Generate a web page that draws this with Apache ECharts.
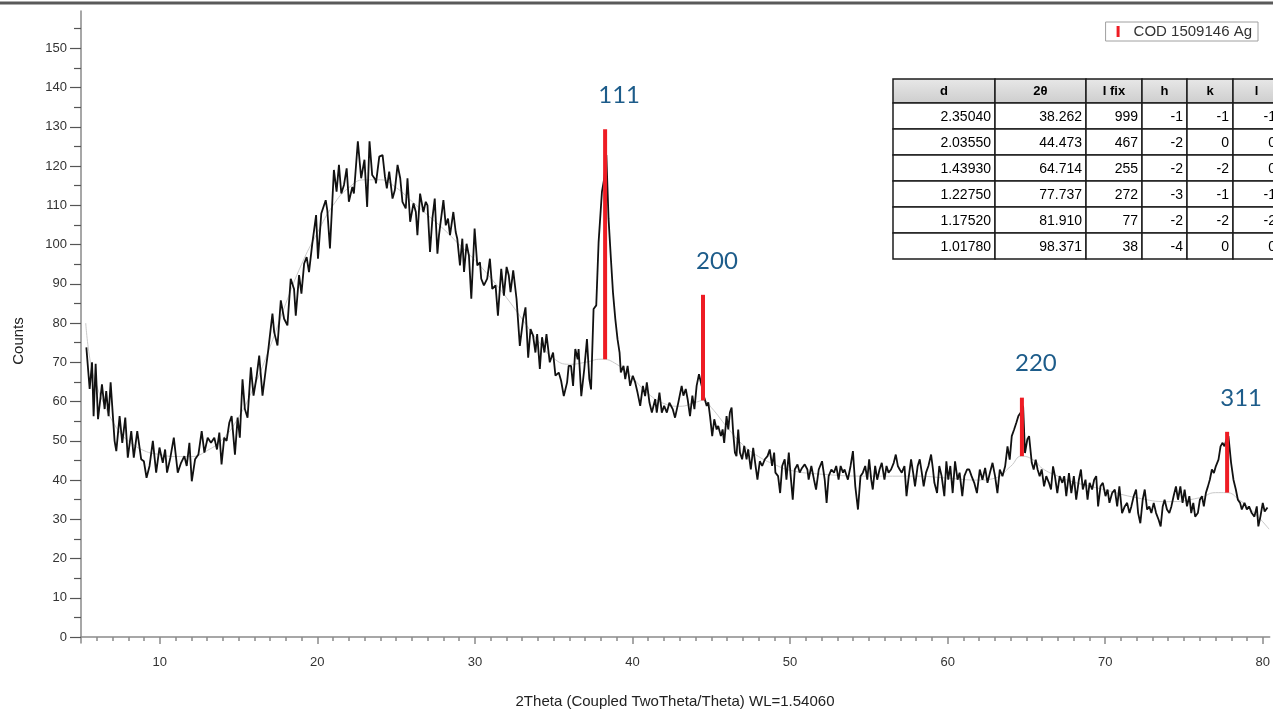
<!DOCTYPE html>
<html>
<head>
<meta charset="utf-8">
<title>XRD Ag</title>
<script src="https://cdn.jsdelivr.net/npm/echarts@6/dist/echarts.min.js"></script>
<style>
  html, body { margin: 0; padding: 0; background: #fff; }
  #chart { width: 1273px; height: 711px; }
</style>
</head>
<body>
<div id="chart"></div>
<script>
const twoTheta = [
  5.34, 5.55, 5.70, 5.80, 5.93, 6.08, 6.33, 6.50, 6.60, 6.75, 6.88, 7.13, 7.24, 7.45, 7.62, 7.81, 7.97, 8.19, 8.35, 8.57,
  8.82, 8.99, 9.16, 9.35, 9.56, 9.77, 9.98, 10.19, 10.34, 10.46, 10.67, 10.89, 11.14, 11.35, 11.56, 11.71, 11.88, 12.03, 12.24, 12.45,
  12.66, 12.83, 13.04, 13.25, 13.46, 13.63, 13.78, 13.92, 14.09, 14.24, 14.41, 14.56, 14.77, 14.94, 15.08, 15.25, 15.40, 15.57, 15.78, 15.95,
  16.14, 16.31, 16.52, 16.73, 16.88, 17.15, 17.26, 17.47, 17.68, 17.89, 18.10, 18.31, 18.52, 18.63, 18.84, 18.99, 19.16, 19.32, 19.47, 19.68,
  19.92, 20.04, 20.25, 20.53, 20.63, 20.80, 21.05, 21.22, 21.37, 21.52, 21.69, 21.86, 22.00, 22.22, 22.32, 22.57, 22.78, 22.99, 23.16, 23.31,
  23.48, 23.69, 23.72, 23.93, 24.14, 24.29, 24.41, 24.56, 24.77, 24.92, 25.09, 25.26, 25.40, 25.61, 25.72, 25.89, 26.10, 26.25, 26.35, 26.52,
  26.73, 26.88, 26.99, 27.15, 27.30, 27.45, 27.62, 27.72, 28.00, 28.15, 28.29, 28.42, 28.63, 28.78, 28.88, 29.05, 29.20, 29.31, 29.47, 29.62,
  29.77, 29.98, 30.15, 30.32, 30.40, 30.57, 30.78, 30.95, 31.10, 31.31, 31.46, 31.67, 31.84, 32.01, 32.15, 32.26, 32.43, 32.64, 32.85, 33.06,
  33.21, 33.38, 33.53, 33.69, 33.84, 33.95, 34.12, 34.26, 34.41, 34.54, 34.75, 34.96, 35.11, 35.32, 35.47, 35.64, 35.85, 35.95, 36.10, 36.23,
  36.37, 36.52, 36.58, 36.75, 36.94, 37.11, 37.26, 37.37, 37.53, 37.70, 37.85, 38.06, 38.21, 38.34, 38.48, 38.63, 38.76, 38.91, 39.05, 39.18,
  39.26, 39.43, 39.54, 39.69, 39.85, 40.02, 40.17, 40.32, 40.49, 40.66, 40.80, 40.91, 41.08, 41.23, 41.44, 41.54, 41.71, 41.86, 42.01, 42.18,
  42.34, 42.56, 42.70, 42.91, 43.12, 43.23, 43.38, 43.50, 43.65, 43.80, 43.93, 44.07, 44.22, 44.39, 44.56, 44.71, 44.81, 44.92, 45.06, 45.19,
  45.34, 45.44, 45.61, 45.72, 45.82, 45.97, 46.08, 46.18, 46.29, 46.39, 46.50, 46.60, 46.71, 46.82, 46.96, 47.09, 47.24, 47.34, 47.51, 47.66,
  47.81, 47.93, 48.08, 48.23, 48.40, 48.57, 48.71, 48.86, 48.99, 49.07, 49.24, 49.37, 49.50, 49.66, 49.77, 49.92, 50.04, 50.17, 50.30, 50.47,
  50.61, 50.76, 50.93, 51.10, 51.18, 51.35, 51.52, 51.65, 51.82, 52.03, 52.20, 52.32, 52.45, 52.62, 52.79, 52.93, 53.08, 53.21, 53.36, 53.46,
  53.67, 53.84, 53.99, 54.14, 54.31, 54.47, 54.62, 54.77, 54.90, 55.02, 55.15, 55.25, 55.40, 55.53, 55.68, 55.82, 55.99, 56.12, 56.25, 56.41,
  56.58, 56.71, 56.84, 56.96, 57.09, 57.26, 57.39, 57.51, 57.68, 57.81, 57.93, 58.10, 58.23, 58.36, 58.48, 58.63, 58.78, 58.95, 59.07, 59.16,
  59.33, 59.47, 59.62, 59.79, 59.92, 60.04, 60.17, 60.32, 60.47, 60.63, 60.76, 60.93, 61.06, 61.23, 61.37, 61.52, 61.69, 61.86, 62.04, 62.21,
  62.38, 62.53, 62.68, 62.85, 63.01, 63.16, 63.31, 63.48, 63.65, 63.80, 63.94, 64.07, 64.22, 64.36, 64.49, 64.64, 64.79, 64.91, 65.06, 65.17,
  65.34, 65.46, 65.59, 65.71, 65.84, 65.97, 66.12, 66.26, 66.43, 66.56, 66.69, 66.81, 66.96, 67.11, 67.28, 67.40, 67.53, 67.70, 67.85, 68.01,
  68.16, 68.33, 68.46, 68.58, 68.75, 68.88, 69.01, 69.17, 69.30, 69.43, 69.55, 69.70, 69.85, 70.02, 70.15, 70.27, 70.44, 70.61, 70.76, 70.90,
  71.07, 71.24, 71.39, 71.54, 71.66, 71.81, 71.96, 72.09, 72.23, 72.38, 72.51, 72.66, 72.80, 72.93, 73.08, 73.23, 73.39, 73.52, 73.65, 73.77,
  73.92, 74.07, 74.20, 74.34, 74.49, 74.62, 74.77, 74.91, 75.04, 75.19, 75.34, 75.46, 75.59, 75.71, 75.88, 76.01, 76.14, 76.26, 76.39, 76.52,
  76.64, 76.77, 76.90, 77.02, 77.19, 77.32, 77.45, 77.57, 77.70, 77.82, 77.99, 78.14, 78.29, 78.42, 78.56, 78.67, 78.84, 78.99, 79.13, 79.30,
  79.47, 79.62, 79.72, 79.85, 80.00, 80.12, 80.30
]
const counts = [
  73.8, 63.2, 70.0, 56.3, 69.6, 55.5, 64.4, 58.1, 62.7, 56.3, 64.9, 50.0, 47.4, 56.3, 49.5, 55.9, 45.7, 52.5, 45.7, 52.5,
  45.3, 44.8, 40.6, 43.6, 50.0, 41.9, 48.3, 44.4, 47.8, 41.9, 45.7, 50.8, 41.9, 44.4, 46.1, 43.6, 49.5, 39.7, 45.3, 46.5,
  52.5, 47.0, 50.8, 49.5, 50.8, 47.8, 52.1, 44.0, 50.8, 50.0, 54.6, 56.3, 46.5, 55.9, 50.8, 65.7, 58.1, 55.9, 68.7, 61.5,
  66.2, 71.7, 61.5, 68.3, 73.0, 82.4, 77.7, 74.3, 85.8, 81.1, 79.4, 91.3, 88.7, 81.9, 92.2, 87.5, 95.1, 96.8, 93.0, 100.3,
  107.5, 96.4, 107.9, 111.3, 108.8, 99.0, 119.0, 113.5, 120.3, 113.0, 115.2, 119.4, 110.9, 114.7, 113.0, 126.3, 116.9, 121.6, 109.6, 126.3,
  117.7, 116.5, 115.6, 122.4, 122.8, 117.3, 114.3, 118.6, 111.7, 113.9, 120.3, 116.9, 110.9, 109.2, 116.9, 105.8, 110.5, 108.3, 102.4, 113.0,
  108.3, 110.9, 110.0, 98.1, 106.6, 111.7, 97.7, 102.4, 111.3, 104.9, 106.6, 102.4, 108.3, 103.2, 101.5, 94.7, 101.5, 93.0, 100.2, 97.2,
  86.2, 104.1, 94.7, 95.5, 91.3, 89.6, 91.3, 96.4, 88.7, 89.6, 81.9, 93.8, 87.0, 94.3, 92.1, 87.9, 93.4, 86.2, 74.2, 81.0,
  84.0, 71.2, 78.5, 76.8, 72.5, 77.2, 68.3, 76.4, 72.5, 77.2, 70.0, 72.5, 66.6, 67.4, 65.3, 61.4, 64.9, 69.1, 69.1, 64.0,
  73.4, 70.8, 73.4, 61.4, 68.3, 75.9, 65.7, 63.1, 83.6, 84.5, 100.7, 113.4, 116.9, 122.8, 106.6, 96.4, 87.9, 81.0, 75.9, 72.5,
  67.4, 69.1, 65.7, 69.1, 64.0, 66.6, 64.9, 62.3, 58.9, 64.0, 61.4, 64.9, 59.7, 57.2, 60.6, 57.2, 62.3, 57.2, 58.9, 57.2,
  59.7, 58.0, 55.9, 59.8, 64.0, 61.5, 63.2, 60.6, 56.3, 61.5, 58.1, 64.0, 67.0, 64.0, 61.0, 58.9, 59.8, 56.3, 51.2, 55.5,
  52.9, 53.8, 51.2, 52.9, 49.5, 56.3, 52.9, 57.2, 58.5, 52.1, 47.0, 46.1, 52.9, 47.0, 45.3, 48.7, 45.3, 47.8, 42.7, 48.2,
  43.6, 40.1, 44.8, 43.6, 45.3, 46.1, 47.8, 43.6, 47.0, 41.9, 41.0, 36.7, 43.6, 45.3, 40.1, 47.0, 41.0, 35.0, 42.7, 44.0,
  41.9, 43.1, 44.0, 42.7, 40.1, 43.6, 40.1, 37.6, 42.7, 44.8, 40.1, 34.2, 41.0, 42.7, 41.9, 43.6, 40.1, 43.6, 41.9, 42.7,
  40.1, 43.6, 47.4, 38.4, 32.5, 41.0, 41.9, 43.6, 40.1, 45.3, 40.1, 37.6, 43.6, 40.1, 42.7, 44.4, 40.1, 43.6, 41.9, 42.7,
  44.4, 46.5, 43.6, 42.7, 41.9, 43.6, 35.9, 40.1, 45.3, 41.9, 38.4, 43.6, 45.3, 41.9, 38.4, 41.9, 43.6, 46.5, 42.7, 39.3,
  36.7, 43.6, 41.0, 35.9, 44.8, 40.1, 43.6, 36.7, 44.8, 40.1, 41.9, 35.9, 41.0, 42.7, 42.7, 41.0, 39.3, 36.7, 42.7, 40.1,
  43.1, 39.3, 41.8, 44.4, 41.0, 36.7, 42.7, 41.0, 43.5, 48.6, 45.2, 51.2, 52.9, 54.6, 56.3, 57.2, 58.9, 46.9, 50.4, 51.2,
  44.4, 42.7, 45.2, 42.7, 41.0, 42.7, 38.4, 41.0, 39.3, 37.6, 43.5, 41.0, 36.7, 41.0, 39.3, 41.0, 35.9, 41.8, 36.7, 41.0,
  35.0, 40.1, 42.7, 37.6, 40.1, 35.0, 39.3, 37.6, 40.1, 41.0, 33.3, 38.4, 39.3, 35.9, 37.6, 34.2, 36.7, 37.6, 33.3, 38.4,
  31.6, 33.3, 34.2, 31.6, 33.3, 35.9, 37.6, 31.6, 29.0, 35.0, 37.6, 32.5, 33.3, 31.6, 34.2, 31.6, 29.9, 28.2, 33.3, 35.0,
  32.5, 31.6, 33.3, 35.9, 38.4, 35.0, 38.4, 34.2, 37.6, 33.3, 35.9, 31.6, 34.2, 30.7, 31.6, 35.0, 35.9, 33.3, 36.7, 38.4,
  40.1, 42.7, 41.8, 43.5, 45.2, 48.6, 49.5, 48.6, 50.4, 51.2, 44.4, 40.1, 37.6, 35.0, 34.2, 32.5, 34.2, 32.5, 33.3, 31.6,
  30.7, 33.3, 28.2, 30.7, 34.2, 32.0, 33.0
]

// fitted background (thin grey curve)
const bgTheta = [5.3, 5.6, 6, 6.5, 7, 7.5, 8, 9, 10, 11, 12, 13, 14, 15, 16, 17, 18, 19, 20, 21,
  22, 23, 24, 25, 26, 27, 28, 29, 30, 31, 32, 33, 34, 35, 36, 37, 38, 39, 40, 41,
  42, 43, 44, 44.5, 45, 46, 47, 48, 49, 50, 52, 55, 58, 60, 62, 63, 64, 64.7, 65.5, 66,
  67, 68, 70, 72, 74, 76, 77, 77.7, 78.5, 79.5, 80.4]
const bgCounts = [80, 70, 64, 59, 55, 52, 50, 47.5, 46.5, 46, 46, 47.5, 50.5, 56, 64, 74, 85, 95, 103, 110,
  114.5, 116.5, 116.5, 114.5, 111, 107.5, 104, 100, 96, 91.5, 86.5, 81, 75.5, 71, 69.5, 70, 70.8, 69.5, 66, 62,
  59.5, 58.8, 59.8, 60.3, 58.5, 53.5, 49, 46, 44, 42.5, 41.5, 41, 41, 40.5, 40, 40.5, 43.5, 46.1, 45, 43,
  41, 39.5, 37.5, 35.5, 34.5, 35.5, 36.8, 36.8, 35, 31.5, 27.5]

// reference pattern sticks (COD 1509146 Ag)
const stickTheta = [38.262, 44.473, 64.714, 77.737]
const stickBase = [70.8, 60.3, 46.1, 36.8]
const stickTop = [129.4, 87.2, 61.0, 52.3]
const peakLabels = ['111', '200', '220', '311']

// peak table
const tableHeader = ['d', '2θ', 'I fix', 'h', 'k', 'l']
const tableD = ['2.35040', '2.03550', '1.43930', '1.22750', '1.17520', '1.01780']
const tableTheta = ['38.262', '44.473', '64.714', '77.737', '81.910', '98.371']
const tableIfix = ['999', '467', '255', '272', '77', '38']
const tableH = ['-1', '-2', '-2', '-3', '-2', '-4']
const tableK = ['-1', '0', '-2', '-1', '-2', '0']
const tableL = ['-1', '0', '0', '-1', '-2', '0']

// axis ticks
const xLabelValues = [10, 20, 30, 40, 50, 60, 70, 80]
const yLabelValues = [0, 10, 20, 30, 40, 50, 60, 70, 80, 90, 100, 110, 120, 130, 140, 150]
const yMinorValues = [5, 15, 25, 35, 45, 55, 65, 75, 85, 95, 105, 115, 125, 135, 145, 155]
const xMinorValues = []
for (let v = 6; v <= 80; v++) {
  if (v % 10 !== 0) xMinorValues.push(v)
}

const X_MIN = 5
const X_MAX = 80.44
const Y_MIN = -1.5
const Y_MAX = 159.5
const AXIS_GREY = '#8a8a8a'
const FONT = 'Liberation Sans, Arial, sans-serif'

const chart = echarts.init(document.getElementById('chart'))

const buildTable = () => {
  // column edges; the last column runs off the canvas like in the source figure
  const cols = [893, 995, 1086, 1142, 1187, 1233, 1280]
  const headTop = 79
  const headH = 24
  const rowH = 26
  const rows = tableD.map((d, i) => [d, tableTheta[i], tableIfix[i], tableH[i], tableK[i], tableL[i]])
  const children = []
  tableHeader.forEach((h, c) => {
    children.push({
      type: 'rect',
      shape: { x: cols[c], y: headTop, width: cols[c + 1] - cols[c], height: headH },
      style: {
        fill: new echarts.graphic.LinearGradient(0, 0, 0, 1, [
          { offset: 0, color: '#e8e8e8' },
          { offset: 1, color: '#cdcdcd' }
        ]),
        stroke: '#1c1c1c',
        lineWidth: 1.5
      }
    })
    children.push({
      type: 'text',
      x: (cols[c] + cols[c + 1]) / 2,
      y: headTop + headH / 2,
      style: {
        text: h, align: 'center', verticalAlign: 'middle',
        font: 'bold 13px ' + FONT, fill: '#000'
      }
    })
  })
  rows.forEach((row, r) => {
    const top = headTop + headH + r * rowH
    row.forEach((val, c) => {
      children.push({
        type: 'rect',
        shape: { x: cols[c], y: top, width: cols[c + 1] - cols[c], height: rowH },
        style: { fill: '#fff', stroke: '#1c1c1c', lineWidth: 1.5 }
      })
      children.push({
        type: 'text',
        x: cols[c + 1] - 4,
        y: top + rowH / 2 + 1,
        style: {
          text: val, align: 'right', verticalAlign: 'middle',
          font: '14px ' + FONT, fill: '#000'
        }
      })
    })
  })
  return { type: 'group', z: 100, children }
}

const option = {
  backgroundColor: '#fff',
  animation: false,
  textStyle: { fontFamily: FONT },
  grid: { left: 81, right: 0, top: 11, bottom: 68, containLabel: false },
  legend: {
    data: ['COD 1509146 Ag'],
    right: 15,
    top: 22,
    icon: 'rect',
    itemWidth: 3,
    itemHeight: 11,
    padding: [2, 6, 2, 11],
    borderColor: '#a0a0a0',
    borderWidth: 1,
    backgroundColor: '#fff',
    textStyle: { fontSize: 15, color: '#333', fontFamily: FONT, padding: [0, 0, 0, 9] }
  },
  xAxis: [
    {
      type: 'value',
      min: X_MIN,
      max: X_MAX,
      position: 'bottom',
      axisLine: { lineStyle: { color: AXIS_GREY, width: 1.5 } },
      axisTick: { customValues: xLabelValues, length: 7, lineStyle: { color: AXIS_GREY, width: 1.5 } },
      axisLabel: { customValues: xLabelValues, margin: 13, fontSize: 13, color: '#333', fontFamily: FONT },
      splitLine: { show: false }
    },
    {
      type: 'value',
      min: X_MIN,
      max: X_MAX,
      position: 'bottom',
      axisLine: { show: false },
      axisTick: { customValues: xMinorValues, length: 4, lineStyle: { color: AXIS_GREY, width: 1.5 } },
      axisLabel: { show: false },
      splitLine: { show: false }
    }
  ],
  yAxis: [
    {
      type: 'value',
      min: Y_MIN,
      max: Y_MAX,
      position: 'left',
      axisLine: { show: true, lineStyle: { color: AXIS_GREY, width: 1.5 } },
      axisTick: { show: true, customValues: yLabelValues, length: 11, lineStyle: { color: '#555', width: 1.2 } },
      axisLabel: { customValues: yLabelValues, margin: 14, fontSize: 13, color: '#333', fontFamily: FONT },
      splitLine: { show: false }
    },
    {
      type: 'value',
      min: Y_MIN,
      max: Y_MAX,
      position: 'left',
      axisLine: { show: false },
      axisTick: { show: true, customValues: yMinorValues, length: 7, lineStyle: { color: '#555', width: 1.2 } },
      axisLabel: { show: false },
      splitLine: { show: false }
    }
  ],
  graphic: [
    {
      type: 'line',
      shape: { x1: 0, y1: 3, x2: 1273, y2: 3 },
      style: { stroke: '#5a5a5a', lineWidth: 3 }
    },
    {
      type: 'text',
      x: 19,
      y: 341,
      rotation: Math.PI / 2,
      style: { text: 'Counts', align: 'center', verticalAlign: 'middle', font: '15px ' + FONT, fill: '#222' }
    },
    {
      type: 'text',
      x: 675,
      y: 702,
      style: {
        text: '2Theta (Coupled TwoTheta/Theta) WL=1.54060',
        align: 'center', verticalAlign: 'middle', font: '15px ' + FONT, fill: '#222'
      }
    },
    buildTable()
  ],
  series: [
    {
      name: 'background',
      type: 'line',
      data: bgTheta.map((x, i) => [x, bgCounts[i]]),
      showSymbol: false,
      smooth: true,
      lineStyle: { color: '#c9c9c9', width: 1 },
      z: 1
    },
    {
      name: 'scan',
      type: 'line',
      data: twoTheta.map((x, i) => [x, counts[i]]),
      showSymbol: false,
      lineStyle: { color: '#111', width: 1.8 },
      z: 2
    },
    {
      name: 'COD 1509146 Ag',
      type: 'custom',
      itemStyle: { color: '#ee1c24' },
      encode: { x: 0, y: [1, 2] },
      data: stickTheta.map((x, i) => [x, stickBase[i], stickTop[i]]),
      z: 3,
      renderItem: (params, api) => {
        const top = api.coord([api.value(0), api.value(2)])
        const base = api.coord([api.value(0), api.value(1)])
        return {
          type: 'group',
          children: [
            {
              type: 'rect',
              shape: { x: top[0] - 2, y: top[1], width: 4, height: base[1] - top[1] },
              style: { fill: '#ee1c24' }
            },
            {
              type: 'text',
              x: top[0] + 14,
              y: top[1] - 34,
              style: {
                text: peakLabels[params.dataIndex],
                align: 'center', verticalAlign: 'middle',
                font: '24px Lato, "Open Sans", sans-serif', fill: '#1d5c8a'
              }
            }
          ]
        }
      }
    }
  ]
}

chart.setOption(option)
</script>
</body>
</html>
